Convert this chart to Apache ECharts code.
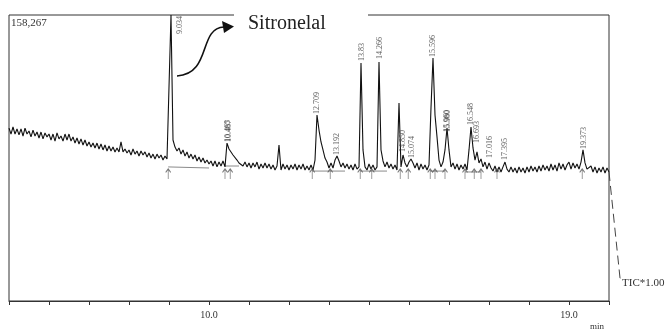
<!DOCTYPE html>
<html>
<head>
<meta charset="utf-8">
<script src="https://cdn.jsdelivr.net/npm/echarts@6/dist/echarts.min.js"></script>
<style>
  html, body { margin: 0; padding: 0; background: #fff; }
  #chart { width: 665px; height: 330px; }
</style>
</head>
<body>
<div id="chart"></div>
<script>
// TIC trace, intensity in thousands of counts, sampled every 0.05 min from 5.00 min
const traceStart = 5.0;
const traceStep = 0.05;
const trace = [
  95.7, 92.4, 96.3, 92.4, 95.2, 91.9, 95.2, 91.3, 95.7, 92.4,
  94.1, 90.8, 94.6, 91.3, 93.5, 90.2, 93.5, 89.7, 93.0, 90.8,
  92.4, 89.1, 92.4, 88.5, 93.0, 89.7, 91.3, 88.5, 92.4, 89.1,
  92.4, 88.5, 90.8, 87.4, 90.2, 86.9, 89.7, 86.3, 89.1, 85.8,
  88.0, 85.2, 87.4, 84.7, 87.4, 84.1, 86.9, 83.6, 86.3, 83.0,
  85.8, 83.0, 85.2, 82.5, 84.7, 82.5, 88.0, 82.5, 84.1, 81.9,
  83.6, 80.8, 84.1, 81.3, 83.0, 80.2, 83.0, 80.8, 82.5, 79.7,
  81.9, 79.1, 81.3, 78.6, 81.3, 79.1, 80.8, 78.0, 80.2, 78.6,
  77.5, 158.267, 89.1, 85.2, 83.0, 84.7, 81.3, 83.6, 80.2, 82.5,
  79.1, 81.3, 78.6, 80.8, 77.5, 79.7, 76.9, 79.1, 76.4, 78.0,
  75.8, 77.5, 74.7, 77.5, 74.2, 76.9, 74.7, 77.5, 74.2, 87.4,
  84.1, 83.0, 80.8, 79.7, 78.0, 76.4, 77.5, 74.7, 76.9, 74.2,
  76.4, 73.6, 76.4, 74.2, 76.9, 73.0, 75.8, 73.6, 76.4, 73.6,
  75.8, 73.0, 75.3, 72.5, 74.7, 86.3, 72.5, 75.8, 73.0, 75.3,
  72.5, 75.3, 73.0, 75.8, 72.5, 75.3, 73.0, 75.8, 72.5, 74.7,
  72.5, 75.3, 72.5, 78.0, 102.9, 94.6, 88.0, 83.6, 79.1, 76.9,
  73.6, 76.4, 73.6, 78.0, 80.2, 77.5, 74.2, 76.4, 73.6, 75.8,
  73.0, 75.3, 72.5, 75.8, 73.0, 74.2, 131.7, 83.6, 74.2, 72.5,
  75.8, 73.0, 75.3, 72.5, 74.2, 132.3, 83.6, 77.5, 74.2, 76.9,
  73.6, 75.8, 73.0, 75.3, 72.5, 109.6, 74.2, 80.8, 76.4, 74.2,
  76.9, 78.6, 76.4, 73.6, 76.4, 72.5, 75.8, 73.0, 75.3, 72.5,
  75.3, 107.0, 134.5, 102.9, 90.8, 78.0, 74.2, 76.9, 83.6, 95.7,
  83.6, 74.2, 76.4, 73.0, 75.8, 72.5, 75.3, 73.0, 75.8, 72.5,
  83.6, 96.3, 84.7, 78.0, 82.5, 76.4, 78.6, 74.2, 76.9, 73.0,
  76.4, 73.6, 71.9, 74.7, 71.4, 74.2, 71.4, 74.2, 76.9, 73.0,
  71.4, 74.2, 71.4, 73.6, 70.8, 74.2, 71.4, 73.6, 70.8, 74.2,
  71.4, 74.7, 71.9, 74.2, 71.4, 74.7, 71.9, 75.3, 72.5, 74.7,
  71.9, 75.8, 72.5, 75.3, 71.9, 76.4, 73.0, 75.8, 72.5, 75.3,
  76.9, 73.0, 76.4, 73.6, 75.8, 73.0, 76.9, 83.6, 76.4, 73.0,
  72.5, 74.7, 71.4, 74.2, 70.8, 73.6, 71.4, 74.2, 70.8, 73.6, 71.4
];

// peak labels (retention time) and the height they sit at
const peakNames = ['10.465', '10.487', '12.709', '13.192', '13.83', '14.266', '14.850', '15.074',
  '15.596', '15.960', '15.980', '16.548', '16.693', '17.016', '17.395', '19.373'];
const peakTimes = [10.465, 10.487, 12.709, 13.192, 13.83, 14.266, 14.850, 15.074,
  15.596, 15.960, 15.980, 16.548, 16.693, 17.016, 17.395, 19.373];
const peakHeights = [86.9, 86.9, 102.4, 79.7, 131.7, 132.8, 81.3, 78.0,
  133.9, 92.4, 92.4, 96.3, 86.3, 78.0, 76.9, 83.0];

// main (off-scale) peak
const mainPeak = { name: '9.034', time: 9.034, height: 158.267 };

// integration marks
const eventTimes = [8.98, 10.40, 10.53, 12.58, 13.03, 13.78, 14.07, 14.78, 14.98,
  15.53, 15.65, 15.90, 16.40, 16.63, 16.80, 17.20, 19.33];
const eventLevel = 70.3;
const baselineSegs = [
  [8.98, 74.2, 10.0, 73.6],
  [10.40, 74.7, 10.75, 74.7],
  [12.58, 71.9, 13.03, 71.9],
  [13.03, 71.9, 13.40, 71.9],
  [13.78, 71.9, 14.07, 71.9],
  [14.07, 71.9, 14.45, 71.9],
  [15.53, 71.9, 15.90, 71.9],
  [16.40, 71.4, 16.80, 71.4]
];

const xLabels = [10, 19];
const yMax = 158.267;
const serif = 'Liberation Serif';

const traceData = trace.map((v, i) => [+(traceStart + i * traceStep).toFixed(2), v]);
const segData = [];
baselineSegs.forEach(s => {
  segData.push([s[0], s[1]], [s[2], s[3]], [null, null]);
});

const labelData = peakNames.map((n, i) => ({ name: n, value: [peakTimes[i], peakHeights[i]] }));
labelData.push({
  name: mainPeak.name,
  value: [mainPeak.time, mainPeak.height],
  label: { position: [10, 1], align: 'right' }
});

const chart = echarts.init(document.getElementById('chart'), null, { renderer: 'canvas' });

const option = {
  animation: false,
  backgroundColor: '#fff',
  grid: {
    left: 9, right: 56, top: 15, bottom: 29,
    show: true, borderColor: '#333', borderWidth: 1
  },
  xAxis: {
    type: 'value',
    min: 5, max: 20, interval: 1,
    axisLine: { show: true, lineStyle: { color: '#333', width: 1 } },
    axisTick: { show: true, length: 4, lineStyle: { color: '#333' } },
    splitLine: { show: false },
    axisLabel: {
      color: '#333', fontFamily: serif, fontSize: 10, margin: 9,
      showMinLabel: true, showMaxLabel: true,
      formatter: v => (xLabels.indexOf(v) >= 0 ? v.toFixed(1) : '')
    }
  },
  yAxis: {
    type: 'value',
    min: 0, max: yMax,
    show: false
  },
  series: [
    {
      type: 'line',
      data: segData,
      showSymbol: false,
      connectNulls: false,
      lineStyle: { color: '#8a8a8a', width: 1 },
      silent: true,
      z: 1
    },
    {
      type: 'line',
      data: traceData,
      showSymbol: false,
      symbol: 'none',
      lineStyle: { color: '#111', width: 1.1 },
      clip: false,
      silent: true,
      z: 2
    },
    {
      type: 'scatter',
      data: eventTimes.map(t => [t, eventLevel]),
      symbol: 'path://M3,0 L3,12 M0,4 L3,0 L6,4',
      symbolSize: [5, 10],
      itemStyle: { color: 'rgba(0,0,0,0)', borderColor: '#555', borderWidth: 1 },
      silent: true,
      z: 3
    },
    {
      type: 'scatter',
      data: labelData,
      symbolSize: 0,
      silent: true,
      z: 4,
      label: {
        show: true,
        formatter: p => p.name,
        position: 'top',
        distance: 2,
        rotate: 90,
        align: 'left',
        verticalAlign: 'middle',
        fontFamily: serif,
        fontSize: 8,
        color: '#333'
      }
    }
  ],
  graphic: [
    // mask the frame behind the annotation
    { type: 'rect', shape: { x: 234, y: 8, width: 134, height: 14 }, style: { fill: '#fff' }, z: 100 },
    {
      type: 'text', left: 248, top: 14, z: 101,
      style: { text: 'Sitronelal', fontFamily: serif, fontSize: 20, fill: '#222' }
    },
    {
      type: 'bezierCurve', z: 101,
      shape: { x1: 177, y1: 76, cpx1: 212, cpy1: 74, cpx2: 198, cpy2: 28, x2: 224, y2: 27 },
      style: { stroke: '#111', lineWidth: 1.6, fill: null }
    },
    {
      type: 'polygon', z: 101,
      shape: { points: [[222, 21], [234, 26.5], [224, 33]] },
      style: { fill: '#111' }
    },
    {
      type: 'text', left: 11, top: 18, z: 101,
      style: { text: '158,267', fontFamily: serif, fontSize: 11, fill: '#333' }
    },
    {
      type: 'polyline', z: 101,
      shape: { points: [[609, 172], [620, 278], [622, 281]] },
      style: { stroke: '#444', lineWidth: 1, lineDash: [9, 5], fill: null }
    },
    {
      type: 'text', left: 622, top: 278, z: 101,
      style: { text: 'TIC*1.00', fontFamily: serif, fontSize: 11, fill: '#333' }
    },
    {
      type: 'text', left: 590, top: 322, z: 101,
      style: { text: 'min', fontFamily: serif, fontSize: 9, fill: '#333' }
    }
  ]
};

chart.setOption(option);
</script>
</body>
</html>
